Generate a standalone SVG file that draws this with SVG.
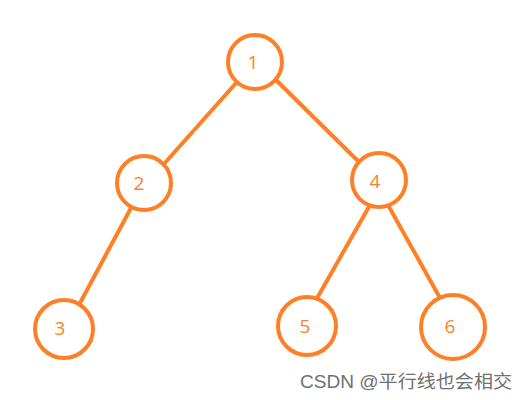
<svg xmlns="http://www.w3.org/2000/svg" width="526" height="400" viewBox="0 0 526 400">
<style>
.n{fill:#fff;stroke:#FF7F27;stroke-width:4}
.t{fill:#FF7F27;font-family:"Open Sans","Noto Sans",sans-serif;font-size:19px;text-anchor:middle;dominant-baseline:central}
.e{stroke:#FF7F27;stroke-width:4;fill:none}
.w{fill:#707070;font-family:"Liberation Sans","Noto Sans CJK SC",sans-serif;font-size:18px}
</style>
<rect width="526" height="400" fill="#fff"/>
<g id="edges">
<line class="e" x1="237" y1="82" x2="163" y2="165"/>
<line class="e" x1="276" y1="80" x2="360" y2="163"/>
<line class="e" x1="131" y1="208" x2="80" y2="303"/>
<line class="e" x1="370" y1="205" x2="316" y2="300"/>
<line class="e" x1="388" y1="205" x2="440" y2="298"/>
</g>
<g id="n1"><circle class="n" cx="255" cy="62" r="27"/><text class="t" x="253" y="62">1</text></g>
<g id="n2"><circle class="n" cx="144" cy="183" r="27"/><text class="t" x="139" y="183">2</text></g>
<g id="n4"><circle class="n" cx="379" cy="180" r="27"/><text class="t" x="375" y="181">4</text></g>
<g id="n3"><circle class="n" cx="64" cy="329" r="29"/><text class="t" x="60" y="328">3</text></g>
<g id="n5"><circle class="n" cx="307" cy="326" r="29"/><text class="t" x="305" y="326">5</text></g>
<g id="n6"><circle class="n" cx="453" cy="327" r="32"/><text class="t" x="450" y="326">6</text></g>
<text class="w" x="300" y="388" textLength="212" lengthAdjust="spacingAndGlyphs">CSDN @平行线也会相交</text>
</svg>
